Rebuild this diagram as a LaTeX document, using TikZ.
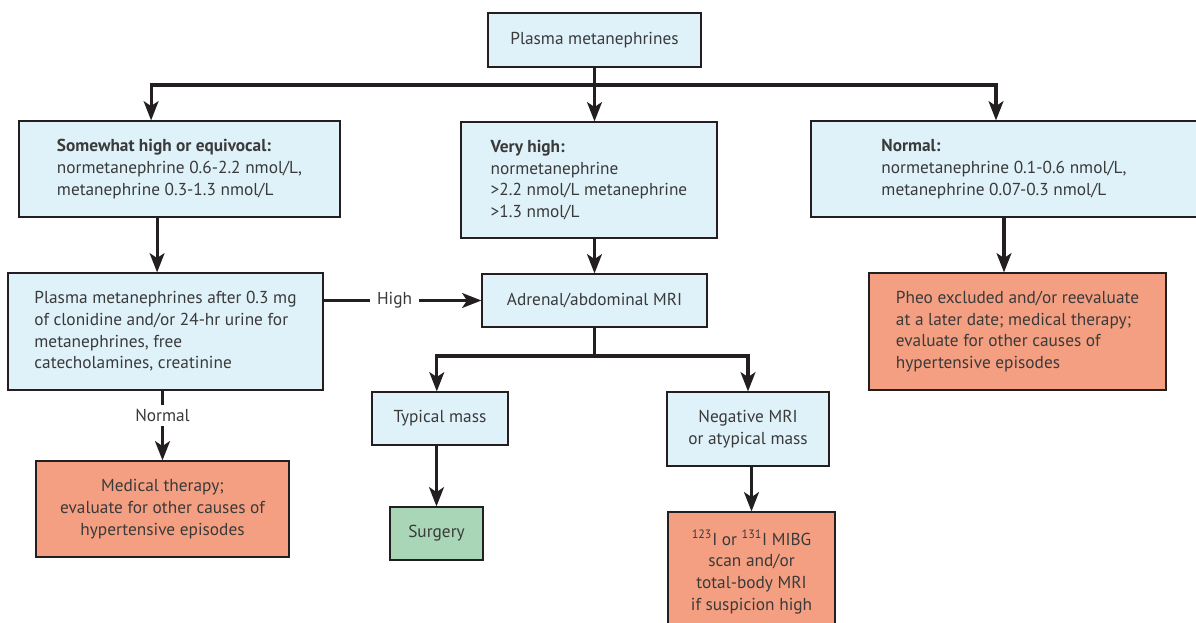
\documentclass[tikz,border=0pt]{standalone}
\usepackage{fontspec}
\setmainfont{PT Sans}
\usetikzlibrary{arrows.meta}
\definecolor{Ink}{HTML}{231F20}
\definecolor{Body}{HTML}{3A3A3A}
\definecolor{Sky}{HTML}{DFF2FA}
\definecolor{Salmon}{HTML}{F49F81}
\definecolor{Mint}{HTML}{A8D6B7}

\begin{document}
\begin{tikzpicture}[x=0.025cm,y=-0.025cm,
      font=\fontsize{12.3pt}{15.4pt}\selectfont,
      stage/.style={draw=Ink,line width=0.8pt,fill=Sky,text=Body,inner sep=2pt,align=center},
      halt/.style={stage,fill=Salmon},
      cure/.style={stage,fill=Mint},
      link/.style={Ink,line width=2.2pt},
      arr/.style={link,-{Stealth[length=4.8mm,width=3.7mm,inset=1.2mm]}},
      tag/.style={fill=white,text=Body,inner xsep=5pt,inner ysep=3pt}]
  \clip (0,0) rectangle (1196,623);

  % first test and its three outcomes
  \node[stage,minimum width=5.325cm,minimum height=1.35cm] (plasma) at (594.5,40) {Plasma metanephrines};
  \node[stage,align=left,minimum width=8.025cm,minimum height=2.4cm] (equiv) at (179.5,169)
    {\textbf{Somewhat high or equivocal:}\\normetanephrine 0.6-2.2 nmol/L,\\metanephrine 0.3-1.3 nmol/L};
  \node[stage,align=left,minimum width=6.4cm,minimum height=2.9cm] (veryhigh) at (589,180)
    {\textbf{Very high:}\\normetanephrine\\>2.2 nmol/L metanephrine\\>1.3 nmol/L};
  \node[stage,align=left,minimum width=9.65cm,minimum height=2.4cm] (normal) at (1004,169)
    {\textbf{Normal:}\\normetanephrine 0.1-0.6 nmol/L,\\metanephrine 0.07-0.3 nmol/L};

  % follow-up tests
  \node[stage,align=left,minimum width=7.875cm,minimum height=2.925cm] (clonidine) at (165.5,331.5)
    {Plasma metanephrines after 0.3 mg\\of clonidine and/or 24-hr urine for\\metanephrines, free\\catecholamines, creatinine};
  \node[stage,minimum width=5.625cm,minimum height=1.325cm] (mri) at (594.5,300.5) {Adrenal/abdominal MRI};
  \node[stage,minimum width=3.4cm,minimum height=1.325cm] (typical) at (440,418.5) {Typical mass};
  \node[stage,minimum width=4.05cm,minimum height=1.85cm] (negative) at (748,429) {Negative MRI\\or atypical mass};

  % end points
  \node[cure,minimum width=2.325cm,minimum height=1.325cm] (surgery) at (436.5,533.5) {Surgery};
  \node[halt,minimum width=4.175cm,minimum height=3cm] (mibg) at (751.5,572)
    {\textsuperscript{123}I or \textsuperscript{131}I MIBG\\scan and/or\\total-body MRI\\if suspicion high};
  \node[halt,minimum width=6.325cm,minimum height=2.4cm] (medical) at (162.5,509)
    {Medical therapy;\\evaluate for other causes of\\hypertensive episodes};
  \node[halt,align=left,minimum width=7.425cm,minimum height=2.925cm] (pheo) at (1017.5,331.5)
    {Pheo excluded and/or reevaluate\\at a later date; medical therapy;\\evaluate for other causes of\\hypertensive episodes};

  % connectors
  \coordinate (fork) at (594.5,85);
  \draw[link] (plasma) -- (fork);
  \draw[arr] (fork) -| ([xshift=-7.1mm]equiv.north);
  \draw[arr] (plasma.south) -- (plasma.south |- veryhigh.north);
  \draw[arr] (fork) -| ([xshift=-2mm]normal.north);

  \draw[arr] ([xshift=-5.6mm]equiv.south) -- ([xshift=-5.6mm]equiv.south |- clonidine.north);
  \draw[arr] (clonidine.east |- mri.west) -- node[tag,pos=0.45] {High} (mri.west);
  \draw[arr] (veryhigh.south -| mri.north) -- (mri.north);
  \draw[arr] (clonidine.south -| medical.north) -- node[tag,pos=0.36] {Normal} (medical.north);
  \draw[arr] (normal.south) -- (normal.south |- pheo.north);

  \coordinate (split) at (594.5,356);
  \draw[link] (mri) -- (split);
  \draw[arr] (split) -| ([xshift=-0.8mm]typical.north);
  \draw[arr] (split) -| (negative.north);
  \draw[arr] (typical.south -| surgery.north) -- (surgery.north);
  \draw[arr] (negative.south -| mibg.north) -- (mibg.north);
\end{tikzpicture}
\end{document}
